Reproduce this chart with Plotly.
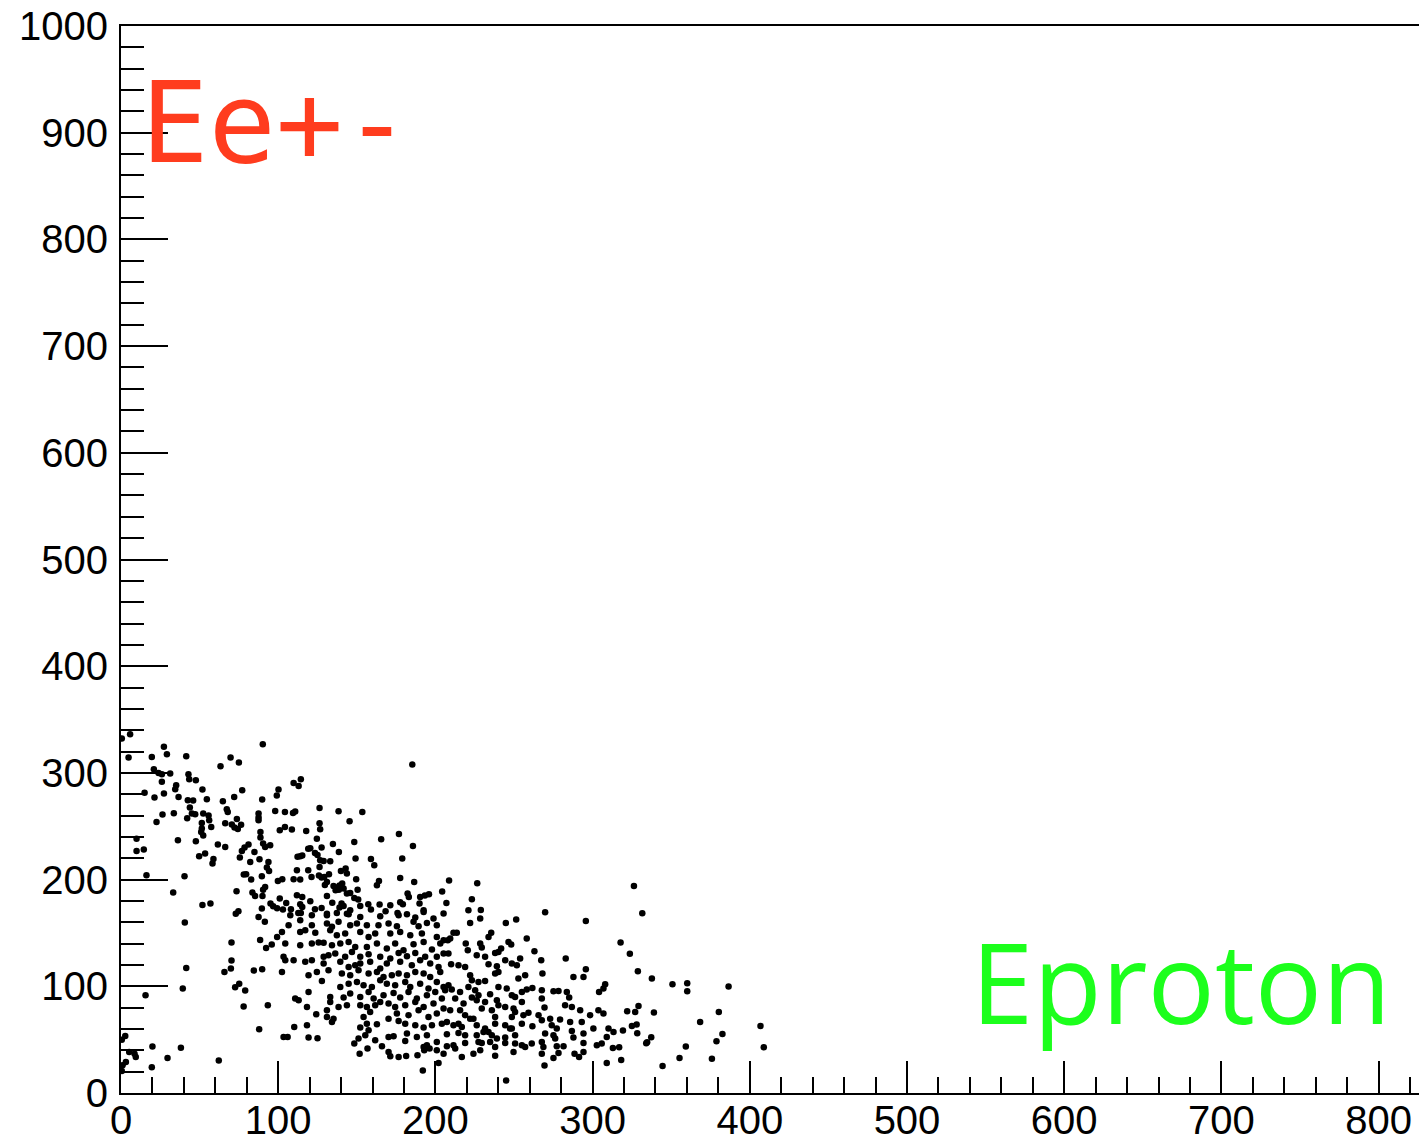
import plotly.graph_objects as go

# (Eproton, Ee+-) pairs, grouped by region of the scatter
upper_left = [
    (0.5, 332.2), (5.8, 336.3), (4.8, 314.4), (27.3, 324.4), (29.2, 317.5), (19.6, 315.0), (41.5, 315.6), (90.2, 326.9),
    (63.3, 306.3), (69.7, 314.4), (75.0, 309.7), (20.9, 303.4), (23.9, 300.0), (26.0, 298.8), (31.3, 299.4), (42.9, 298.8),
    (43.4, 294.1), (47.6, 293.1), (26.0, 291.6), (35.1, 288.4), (34.5, 284.7), (51.8, 284.4), (77.1, 283.8), (100.2, 284.4),
    (15.0, 281.3), (21.3, 276.9), (27.3, 280.6), (36.6, 277.5), (42.5, 274.4), (45.9, 274.1), (54.6, 275.3), (64.8, 273.4),
    (72.0, 277.5), (89.8, 275.0), (99.1, 278.8), (43.8, 267.5), (67.3, 265.9), (67.9, 263.4), (87.5, 261.9), (98.1, 264.4),
    (26.4, 260.9), (33.6, 262.2), (45.1, 261.9), (47.2, 261.3), (52.3, 261.9), (55.7, 260.0), (42.1, 257.5), (22.6, 254.1),
    (51.4, 253.1), (56.1, 255.6), (66.3, 252.8), (73.7, 256.9), (70.5, 251.6), (72.2, 248.8), (74.3, 247.5), (76.4, 251.3),
    (87.5, 255.6), (87.5, 258.1), (57.4, 249.4), (51.4, 247.8), (51.0, 244.7), (52.3, 241.3), (88.7, 244.7), (101.0, 246.3),
    (9.9, 238.4), (36.2, 236.9), (47.6, 235.9), (88.7, 239.4), (90.4, 233.8), (91.7, 230.6), (94.9, 232.2), (61.6, 232.8),
    (66.3, 230.6), (81.1, 232.8), (78.6, 230.0), (76.9, 226.9), (84.9, 225.9), (9.9, 226.9), (14.5, 228.1), (49.7, 221.9),
    (53.5, 224.4), (58.8, 219.4), (58.2, 215.0), (75.6, 220.6), (82.2, 216.6), (88.1, 219.1), (93.8, 216.6), (92.8, 211.3),
    (94.2, 208.1), (16.2, 204.1), (40.4, 203.1), (78.1, 204.7), (79.6, 205.0), (82.8, 200.0), (89.6, 203.1), (99.8, 198.8),
    (91.7, 193.1), (90.4, 190.6), (73.5, 189.1), (33.2, 187.8), (83.6, 187.8), (85.3, 184.7), (90.0, 184.7), (101.0, 182.2),
    (95.1, 177.5), (96.8, 175.0), (99.3, 173.1), (51.8, 176.3), (56.9, 177.5), (89.6, 172.8), (74.7, 170.3), (73.0, 168.1),
]

lower_left = [
    (87.5, 165.0), (91.5, 160.4), (40.6, 159.7), (70.3, 141.0), (88.5, 143.5), (92.3, 136.0), (95.9, 139.1), (99.3, 146.3),
    (41.5, 117.2), (70.3, 124.1), (69.9, 116.6), (65.8, 113.5), (84.5, 114.7), (89.8, 116.0), (39.3, 97.9), (72.6, 99.1),
    (75.2, 102.5), (79.0, 96.0), (15.6, 91.6), (78.0, 81.0), (93.4, 82.2), (87.9, 59.7), (2.7, 53.5), (0.5, 50.0),
    (20.0, 43.5), (38.1, 42.5), (5.2, 38.5), (8.6, 36.9), (9.4, 33.8), (29.6, 32.9), (62.2, 30.4), (3.1, 29.1),
    (1.0, 26.0), (19.6, 24.1), (0.5, 20.7),
]

upper_mid = [
    (185.3, 307.8), (109.8, 290.6), (113.0, 287.8), (114.4, 294.1), (126.3, 267.2), (104.3, 263.4), (109.4, 262.5), (110.8, 263.8),
    (138.4, 264.1), (153.5, 263.4), (145.4, 254.7), (126.3, 252.8), (126.7, 247.2), (104.3, 249.4), (108.7, 246.9), (117.8, 245.6),
    (124.6, 238.4), (148.4, 235.3), (134.8, 233.4), (165.5, 237.8), (176.8, 242.8), (185.7, 231.6), (119.1, 228.8), (120.4, 229.4),
    (127.6, 230.0), (138.6, 225.9), (112.3, 221.3), (114.0, 221.9), (115.3, 222.5), (123.4, 225.0), (125.0, 223.1), (149.2, 219.7),
    (126.7, 218.1), (128.9, 217.5), (133.1, 217.2), (159.0, 219.4), (161.1, 213.4), (178.9, 219.7), (111.9, 208.8), (119.1, 208.8),
    (126.3, 211.9), (142.9, 210.3), (139.9, 208.1), (143.7, 205.6), (102.6, 200.3), (109.8, 200.3), (114.0, 200.0), (121.2, 202.5),
    (125.9, 203.8), (127.6, 201.9), (129.3, 202.5), (132.3, 205.0), (149.6, 200.3), (131.0, 197.8), (129.7, 195.0), (135.2, 194.1),
    (136.9, 192.5), (138.6, 190.6), (140.7, 196.3), (136.5, 190.0), (139.0, 194.4), (141.6, 191.6), (150.5, 190.6), (164.1, 198.8),
    (162.8, 194.7), (177.6, 201.6), (186.5, 197.8), (111.9, 185.3), (115.3, 183.8), (131.0, 184.7), (143.7, 186.9), (145.8, 187.5),
    (150.9, 181.3), (148.4, 182.8), (182.3, 186.9), (183.1, 183.8), (190.3, 183.8), (193.3, 185.0), (195.9, 186.3), (204.3, 188.8),
    (105.1, 178.1), (114.0, 176.9), (120.4, 179.7), (115.3, 174.4), (134.4, 178.4), (140.3, 177.5), (141.6, 175.3), (157.3, 176.9),
    (152.2, 175.3), (164.5, 176.6), (171.3, 175.9), (177.6, 178.8), (179.3, 176.9), (189.9, 177.5), (103.0, 171.9), (108.1, 172.2),
    (123.4, 172.2), (127.6, 173.4), (139.0, 173.8), (145.8, 171.3), (192.5, 171.3), (168.3, 170.3), (159.0, 171.9), (112.8, 168.8),
    (131.0, 168.1), (143.7, 168.1), (175.9, 168.8),
]

upper_right = [
    (208.7, 199.1), (226.6, 196.6), (207.0, 178.1), (223.2, 181.6), (221.0, 171.3), (228.9, 171.6), (269.8, 169.4),
    (326.3, 194.1), (331.6, 168.4),
]

core_left = [
    (107.7, 166.6), (114.4, 168.8), (121.4, 166.6), (131.0, 166.6), (137.3, 168.8), (144.8, 167.5), (152.2, 165.0), (164.9, 165.7),
    (176.6, 166.6), (181.9, 167.5), (187.2, 164.4), (192.5, 169.7), (198.8, 163.5), (205.2, 168.2), (106.6, 157.2), (114.0, 161.9),
    (121.4, 157.2), (131.0, 158.8), (134.2, 155.7), (138.4, 160.4), (145.8, 157.2), (150.1, 158.8), (156.4, 157.2), (163.8, 157.2),
    (170.2, 158.8), (175.5, 156.3), (186.1, 160.4), (189.3, 156.3), (194.6, 159.4), (200.9, 157.2), (102.4, 151.0), (114.0, 151.0),
    (117.2, 152.6), (123.6, 150.1), (133.1, 152.6), (137.3, 147.9), (142.6, 149.4), (152.2, 151.0), (157.5, 146.3), (161.7, 149.4),
    (171.3, 149.4), (177.6, 151.0), (184.0, 147.9), (191.4, 149.4), (200.9, 146.3), (205.2, 143.2), (104.5, 140.1), (114.0, 138.5),
    (121.4, 140.1), (125.7, 141.0), (128.9, 140.7), (134.2, 138.5), (139.5, 140.1), (144.8, 141.6), (149.0, 136.9), (156.4, 136.9),
    (162.8, 140.1), (169.1, 135.4), (174.4, 140.1), (179.7, 133.8), (186.1, 139.4), (192.5, 141.6), (197.8, 134.4), (203.1, 140.1),
    (103.4, 127.6), (109.8, 124.4), (117.2, 122.9), (121.4, 124.4), (128.9, 127.6), (132.0, 129.1), (136.3, 130.7), (142.6, 127.6),
    (146.9, 132.2), (152.2, 127.6), (157.5, 130.0), (164.9, 127.6), (171.3, 126.0), (176.6, 131.3), (181.9, 128.2), (187.2, 131.3),
    (193.5, 127.6), (200.9, 127.6), (205.2, 130.7), (104.5, 124.4), (128.9, 121.3), (139.5, 122.9), (144.8, 118.2), (149.0, 119.7),
    (152.2, 121.3), (158.5, 122.9), (164.9, 116.6), (169.1, 121.3), (177.6, 122.9), (185.0, 119.7), (190.3, 124.4), (196.7, 121.3),
    (202.0, 118.2), (102.4, 113.5), (119.3, 110.4), (124.6, 113.5), (132.0, 115.0), (140.5, 111.9), (145.8, 110.4), (151.1, 115.0),
    (157.5, 111.9), (162.8, 113.5), (167.0, 108.8), (172.3, 110.4), (176.6, 111.9), (181.9, 110.4), (187.2, 113.5), (192.5, 111.9),
    (196.7, 108.8), (203.1, 113.5), (127.8, 105.0), (139.5, 99.4), (144.8, 102.5), (150.1, 104.1), (154.3, 101.0), (159.6, 99.4),
    (164.9, 105.7), (169.1, 102.5), (174.4, 101.0), (180.8, 104.1), (184.0, 99.4), (190.3, 102.5), (195.6, 97.9), (200.9, 104.1),
    (205.2, 99.4), (119.3, 94.7), (110.8, 88.5), (113.0, 86.9), (133.1, 90.0), (141.6, 89.4), (145.8, 93.2), (152.2, 90.0),
    (157.5, 94.7), (160.7, 88.5), (167.0, 91.6), (173.4, 93.8), (177.6, 89.4), (182.9, 94.7), (188.2, 88.5), (194.6, 91.6),
    (199.9, 94.7), (204.1, 88.5), (118.3, 80.7), (133.1, 85.4), (138.4, 80.7), (131.0, 77.6), (143.7, 82.2), (152.2, 82.2),
    (156.4, 80.7), (161.7, 82.2), (164.9, 85.4), (170.2, 83.8), (174.4, 80.7), (180.8, 82.2), (187.2, 85.4), (192.5, 80.7),
    (198.8, 83.8), (205.2, 79.1), (124.2, 73.8), (131.0, 71.3), (135.2, 69.7), (134.2, 66.6), (154.3, 71.3), (158.5, 76.0),
    (170.2, 69.7), (175.5, 74.4), (182.9, 72.9), (189.3, 77.6), (195.6, 71.3), (200.9, 74.4), (110.2, 61.9), (118.3, 63.5),
    (152.2, 61.3), (156.4, 65.0), (157.5, 58.8), (162.8, 64.4), (176.6, 67.5), (180.8, 65.0), (187.2, 63.5), (192.5, 61.3),
    (197.8, 63.5), (204.1, 65.0), (103.4, 52.5), (106.0, 52.5), (119.3, 51.9), (125.0, 51.3), (155.4, 54.1), (170.2, 52.5),
    (173.4, 53.2), (181.9, 55.7), (188.2, 52.5), (194.6, 54.1), (200.9, 47.9), (151.1, 51.0), (148.4, 46.3), (161.7, 49.4),
    (180.8, 48.8), (151.8, 36.9), (156.8, 41.6), (166.0, 43.8), (170.2, 38.5), (171.3, 34.4), (176.6, 33.8), (181.4, 34.7),
    (188.6, 35.4), (192.5, 43.2), (194.6, 44.7), (192.9, 40.0), (196.3, 41.6), (200.9, 40.0), (205.2, 36.9), (202.0, 28.2),
    (192.0, 21.0),
]

core_right = [
    (222.1, 159.4), (228.5, 163.5), (244.8, 159.4), (251.4, 162.6), (295.7, 161.3), (211.5, 150.1), (213.6, 150.1), (207.9, 143.2),
    (209.4, 144.7), (235.5, 150.1), (233.8, 146.3), (258.1, 144.7), (219.3, 140.1), (220.6, 133.8), (228.5, 140.1), (229.5, 136.3),
    (238.0, 131.3), (240.1, 132.2), (241.8, 135.4), (246.5, 141.6), (248.2, 139.1), (263.0, 132.9), (208.3, 130.7), (226.3, 129.1),
    (231.6, 127.6), (244.4, 124.4), (248.6, 121.3), (251.8, 119.7), (253.9, 126.0), (267.3, 124.4), (282.9, 126.0), (210.0, 120.7),
    (214.7, 119.7), (218.9, 118.2), (233.8, 120.7), (239.1, 118.8), (240.1, 113.5), (238.0, 111.9), (222.1, 110.4), (223.2, 105.7),
    (227.4, 104.1), (231.6, 105.0), (252.8, 107.2), (257.1, 110.4), (268.1, 111.9), (287.8, 108.8), (294.2, 108.8), (295.7, 116.0),
    (208.3, 101.0), (206.2, 96.3), (210.4, 96.9), (215.7, 94.7), (221.0, 99.4), (225.3, 96.3), (227.4, 91.6), (234.8, 92.6),
    (240.1, 99.4), (245.4, 97.9), (248.6, 91.6), (250.7, 90.0), (255.0, 94.7), (258.1, 96.9), (261.7, 98.5), (267.7, 96.3),
    (275.1, 95.4), (278.3, 95.7), (283.6, 94.7), (285.1, 89.4), (304.1, 94.7), (306.9, 97.9), (308.0, 101.9), (212.6, 88.5),
    (217.9, 83.8), (223.2, 89.4), (226.3, 86.9), (231.6, 85.4), (239.1, 86.9), (240.1, 82.2), (244.4, 80.7), (249.7, 79.1),
    (255.0, 85.4), (267.7, 88.5), (269.4, 80.1), (282.5, 82.2), (286.8, 80.7), (303.7, 77.6), (306.9, 74.4), (292.1, 77.6),
    (298.4, 72.9), (209.4, 77.6), (215.7, 77.6), (218.9, 72.9), (222.1, 69.7), (224.2, 69.7), (229.5, 79.1), (235.9, 77.6),
    (238.0, 71.3), (248.6, 71.3), (250.7, 76.0), (256.0, 72.9), (259.2, 75.1), (265.6, 72.9), (273.0, 69.7), (279.3, 68.8),
    (274.0, 63.5), (277.2, 60.4), (285.7, 66.6), (293.1, 66.6), (286.8, 58.2), (207.3, 66.6), (211.5, 63.5), (214.7, 65.0),
    (216.8, 61.9), (226.3, 63.5), (231.6, 60.4), (233.8, 57.2), (238.0, 65.0), (244.4, 63.5), (247.5, 60.4), (255.0, 65.0),
    (261.7, 62.6), (267.7, 68.2), (300.5, 60.4), (310.1, 60.4), (309.0, 52.5), (207.3, 55.1), (214.7, 56.3), (218.9, 54.1),
    (226.3, 54.1), (230.6, 57.2), (235.9, 54.1), (239.1, 51.0), (244.4, 51.9), (248.6, 60.4), (250.7, 54.1), (269.8, 55.7),
    (275.1, 54.1), (276.2, 51.0), (287.8, 51.9), (294.2, 55.7), (207.3, 43.8), (211.5, 44.7), (218.9, 46.9), (227.4, 47.9),
    (229.5, 46.9), (234.8, 47.9), (238.0, 43.2), (244.4, 46.9), (250.7, 46.3), (255.0, 44.7), (257.1, 43.2), (261.3, 46.3),
    (267.7, 47.9), (268.7, 43.2), (277.2, 43.8), (281.5, 43.8), (294.2, 46.9), (305.8, 46.3), (302.7, 44.7), (212.6, 41.6),
    (216.8, 33.8), (224.2, 36.9), (228.5, 40.0), (238.0, 35.0), (249.7, 38.5), (267.7, 36.9), (275.1, 32.9), (278.3, 37.6),
    (288.5, 36.9), (291.4, 33.8), (294.2, 38.5), (309.0, 28.2), (269.4, 25.7), (245.0, 11.6),
]

tail = [
    (317.8, 141.0), (323.7, 130.4), (328.8, 114.1), (337.7, 107.2), (350.8, 101.9), (360.2, 102.9), (360.2, 95.4), (386.5, 99.7),
    (322.0, 76.6), (327.1, 76.0), (329.2, 81.6), (339.0, 75.4), (313.3, 57.2), (319.3, 58.5), (325.0, 62.9), (328.0, 64.1),
    (328.4, 56.0), (368.4, 66.6), (380.3, 76.0), (382.6, 55.4), (406.8, 62.9), (312.9, 42.2), (316.9, 42.9), (318.2, 31.0),
    (334.1, 46.6), (334.7, 47.6), (337.3, 52.2), (359.3, 43.5), (355.3, 32.9), (344.5, 25.4), (375.9, 32.2), (378.8, 48.5),
    (408.9, 42.9),
]

groups = [upper_left, lower_left, upper_mid, upper_right, core_left, core_right, tail]
eproton = [p[0] for g in groups for p in g]
ee_pm = [p[1] for g in groups for p in g]

x_range = [0, 825.7]
y_range = [0, 1000]
tick_font = dict(family="Liberation Sans, Arial, sans-serif", size=40, color="black")

fig = go.Figure(
    go.Scatter(
        x=eproton,
        y=ee_pm,
        mode="markers",
        marker=dict(color="black", size=6.5, line=dict(width=0)),
        hoverinfo="skip",
    )
)

fig.update_xaxes(
    range=x_range,
    automargin=False,
    showgrid=False,
    zeroline=False,
    showline=True,
    linecolor="black",
    linewidth=2,
    mirror=True,
    ticks="inside",
    ticklen=32,
    tickwidth=1.5,
    tickcolor="black",
    tick0=0,
    dtick=100,
    minor=dict(ticks="inside", dtick=20, tick0=0, ticklen=16, tickwidth=1.5, tickcolor="black", showgrid=False),
    tickfont=tick_font,
    ticklabelstandoff=-9,
)
fig.update_yaxes(
    range=y_range,
    automargin=False,
    showgrid=False,
    zeroline=False,
    showline=True,
    linecolor="black",
    linewidth=2,
    ticks="inside",
    ticklen=47,
    tickwidth=1.5,
    tickcolor="black",
    tick0=0,
    dtick=100,
    minor=dict(ticks="inside", dtick=20, tick0=0, ticklen=23, tickwidth=1.5, tickcolor="black", showgrid=False),
    tickfont=tick_font,
    ticklabelstandoff=3,
)

fig.add_annotation(
    text="Ee+-", xref="paper", yref="paper", x=0.014, y=0.909,
    xanchor="left", yanchor="middle", showarrow=False,
    font=dict(family="DejaVu Sans Mono", size=112, color="#ff3c1e"),
)
fig.add_annotation(
    text="Eproton", xref="paper", yref="paper", x=0.98, y=0.105,
    xanchor="right", yanchor="middle", showarrow=False,
    font=dict(family="Open Sans", size=112, color="#1cff1c"),
)

fig.update_layout(
    width=1419,
    height=1142,
    margin=dict(l=121, r=0, t=26, b=49, pad=0),
    paper_bgcolor="white",
    plot_bgcolor="white",
    showlegend=False,
)

fig.write_html("out.html")
